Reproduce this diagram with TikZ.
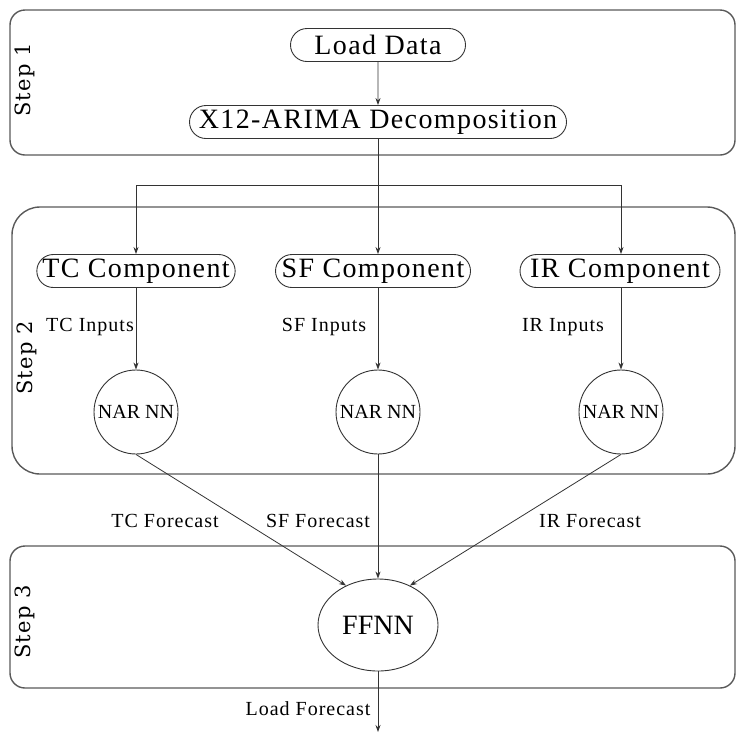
\documentclass[tikz,border=0pt]{standalone}
\usepackage{fontspec}
\setmainfont{Liberation Serif}
\newfontfamily\spaced[LetterSpace=5]{Liberation Serif}
\newfontfamily\stepfont[LetterSpace=6]{DejaVu Serif}
\usetikzlibrary{shapes.misc,shapes.geometric,arrows.meta}
\begin{document}
\begin{tikzpicture}[x=1pt,y=-1pt,
  frame/.style={draw=black!65,line width=1.4pt,rounded corners=#1,inner sep=0pt},
  pill/.style={draw=black!80,line width=0.9pt,rounded rectangle,minimum height=33pt,inner sep=0pt,font=\spaced\fontsize{28}{28}\selectfont},
  nar/.style={draw=black!80,line width=0.9pt,circle,minimum size=84pt,inner sep=0pt,font=\fontsize{20}{20}\selectfont},
  lbl/.style={font=\spaced\fontsize{20}{20}\selectfont,inner sep=0pt},
  steplbl/.style={rotate=90,font=\stepfont\fontsize{21}{21}\selectfont,inner sep=0pt},
  conn/.style={draw=black!80,line width=0.8pt,-{Stealth[length=7pt,width=5pt]}},
  plain/.style={draw=black!80,line width=0.8pt}]
\useasboundingbox (0,0) rectangle (736,732);
% step frames
\node[frame=15pt,minimum width=725pt,minimum height=145pt] (s1) at (372.5,82.5) {};
\node[frame=28pt,minimum width=723pt,minimum height=267pt] (s2) at (373.5,340.5) {};
\node[frame=15pt,minimum width=725pt,minimum height=142pt] (s3) at (372.5,617) {};
\node[steplbl] (l1) at (25,80) {Step 1};
\node[steplbl] (l2) at (27,358) {Step 2};
\node[steplbl] (l3) at (25,622) {Step 3};
% nodes
\node[pill,minimum width=175pt] (load) at (378,45) {Load Data};
\node[pill,minimum width=377pt] (x12) at (378,122) {X12-ARIMA Decomposition};
\node[pill,minimum width=198pt] (tc) at (136,271) {TC Component};
\node[pill,minimum width=195pt] (sf) at (373,271) {SF Component};
\node[pill,minimum width=200pt] (ir) at (620,271) {IR Component};
\node[nar] (tcn) at (136,412) {NAR NN};
\node[nar] (sfn) at (378,412) {NAR NN};
\node[nar] (irn) at (621,412) {NAR NN};
\node[draw=black!80,line width=0.9pt,ellipse,minimum width=120pt,minimum height=92pt,inner sep=0pt,font=\fontsize{28}{28}\selectfont] (ffnn) at (378,625) {FFNN};
% labels
\node[lbl] (tci) at (90,327) {TC Inputs};
\node[lbl] (sfi) at (324,327) {SF Inputs};
\node[lbl] (iri) at (563,327) {IR Inputs};
\node[lbl] (tcf) at (165,521) {TC Forecast};
\node[lbl] (sff) at (318,521) {SF Forecast};
\node[lbl] (irf) at (590,521) {IR Forecast};
\node[lbl] (lf) at (308,709) {Load Forecast};
% connectors
\coordinate (j) at (378,185);
\coordinate (jl) at (136,185);
\coordinate (jr) at (621,185);
\coordinate (out) at (378,732);
\draw[conn] (load) -- (x12);
\draw[plain] (x12.south) -- (j);
\draw[plain] (jl) -- (jr);
\draw[conn] (jl) -- (tcn.north |- tc.north);
\draw[conn] (j) -- (sfn.north |- sf.north);
\draw[conn] (jr) -- (irn.north |- ir.north);
\draw[conn] (tcn.north |- tc.south) -- (tcn.north);
\draw[conn] (sfn.north |- sf.south) -- (sfn.north);
\draw[conn] (irn.north |- ir.south) -- (irn.north);
\draw[conn] (tcn.south) -- (ffnn.129);
\draw[conn] (sfn.south) -- (ffnn.north);
\draw[conn] (irn.south) -- (ffnn.51);
\draw[conn] (ffnn.south) -- (out);
\end{tikzpicture}
\end{document}
